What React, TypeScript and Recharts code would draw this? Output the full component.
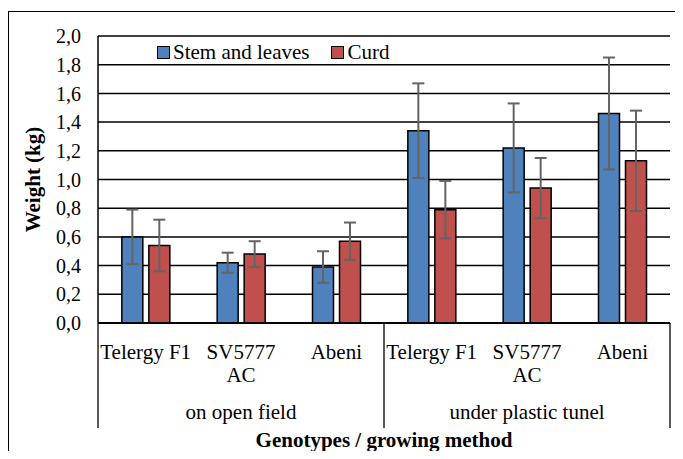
import React from "react"
import { BarChart, Bar, XAxis, YAxis, CartesianGrid, Legend, ErrorBar } from "recharts"

const genotypeLines = [["Telergy F1"], ["SV5777", "AC"], ["Abeni"]]
const methods = ["on open field", "under plastic tunel"]
const ids = ["of-telergy", "of-sv5777", "of-abeni", "pt-telergy", "pt-sv5777", "pt-abeni"]
const seriesNames = ["Stem and leaves", "Curd"]

const stem = [0.6, 0.42, 0.39, 1.34, 1.22, 1.46]
const stemErr = [0.19, 0.07, 0.11, 0.33, 0.31, 0.39]
const curd = [0.54, 0.48, 0.57, 0.79, 0.94, 1.13]
const curdErr = [0.18, 0.09, 0.13, 0.2, 0.21, 0.35]

const yTicks = [0, 0.2, 0.4, 0.6, 0.8, 1.0, 1.2, 1.4, 1.6, 1.8, 2.0]

const data = ids.map((id, i) => ({
  id,
  stem: stem[i],
  stemErr: stemErr[i],
  curd: curd[i],
  curdErr: curdErr[i],
}))

const FONT = '"Liberation Serif", "Times New Roman", serif'

function CategoryTick(props: any) {
  const { x, y, payload } = props
  const i = payload.index ?? props.index
  const half = payload.offset ?? 0
  const lines = genotypeLines[i % 3]
  const txt = { fontFamily: FONT, fontSize: 21, fill: "#000" }
  return (
    <g>
      {lines.map((t, k) => (
        <text key={k} x={x} y={y + 29 + k * 23} textAnchor="middle" dominantBaseline="central" style={txt}>
          {t}
        </text>
      ))}
      {i % 3 === 1 && (
        <text x={x} y={y + 89} textAnchor="middle" dominantBaseline="central" style={txt}>
          {methods[Math.floor(i / 3)]}
        </text>
      )}
      {i % 3 === 0 && <line x1={x - half} x2={x - half} y1={y} y2={y + 105} stroke="#000" strokeWidth={1.3} />}
      {i === 5 && <line x1={x + half} x2={x + half} y1={y} y2={y + 105} stroke="#000" strokeWidth={1.3} />}
    </g>
  )
}

function LegendContent({ payload }: any) {
  const items = [...(payload || [])].sort(
    (a: any, b: any) => seriesNames.indexOf(a.value) - seriesNames.indexOf(b.value)
  )
  return (
    <div style={{ display: "flex", alignItems: "center", fontFamily: FONT, fontSize: 21, color: "#000", lineHeight: "24px" }}>
      {items.map((e: any) => (
        <span key={e.value} style={{ display: "flex", alignItems: "center", marginRight: 22 }}>
          <span
            style={{
              display: "inline-block",
              width: 11,
              height: 11,
              background: e.color,
              border: "1.5px solid #000",
              marginRight: 3,
            }}
          />
          {e.value}
        </span>
      ))}
    </div>
  )
}

export default function App() {
  return (
    <div style={{ position: "relative", width: 675, height: 443, overflow: "hidden" }}>
      <div
        style={{
          position: "absolute",
          top: 3,
          left: 0,
          width: 720,
          height: 520,
          borderTop: "1px solid #000",
          borderLeft: "1px solid #000",
        }}
      />
      <BarChart
        width={667}
        height={443}
        data={data}
        margin={{ top: 28, right: 5, left: 0, bottom: 0 }}
        barCategoryGap="25%"
        barGap={6}
        style={{ position: "absolute", top: 0, left: 0 }}
      >
        <CartesianGrid vertical={false} stroke="#000" strokeWidth={1.5} />
        <XAxis
          dataKey="id"
          interval={0}
          height={128}
          tickSize={0}
          tickMargin={0}
          tickLine={false}
          axisLine={{ stroke: "#000", strokeWidth: 2 }}
          tick={<CategoryTick />}
          label={{
            value: "Genotypes / growing method",
            position: "insideBottom",
            offset: 4,
            style: { fontFamily: FONT, fontSize: 21, fontWeight: "bold", fill: "#000" },
          }}
        />
        <YAxis
          domain={[0, 2]}
          ticks={yTicks}
          width={90}
          tickSize={0}
          tickMargin={17}
          tickLine={false}
          axisLine={{ stroke: "#000", strokeWidth: 1.5 }}
          tickFormatter={(v: number) => v.toFixed(1).replace(".", ",")}
          tick={{ fontFamily: FONT, fontSize: 20, fill: "#000" }}
          label={{
            value: "Weight (kg)",
            angle: -90,
            position: "insideLeft",
            offset: 25,
            style: { textAnchor: "middle", fontFamily: FONT, fontSize: 21, fontWeight: "bold", fill: "#000" },
          }}
        />
        <YAxis
          yAxisId="right"
          orientation="right"
          width={0}
          domain={[0, 2]}
          tick={false}
          tickLine={false}
          axisLine={{ stroke: "#000", strokeWidth: 1.5 }}
        />
        <Legend
          verticalAlign="middle"
          layout="horizontal"
          content={<LegendContent />}
          wrapperStyle={{ top: 32, left: 149, width: "auto" }}
        />
        <Bar dataKey="stem" name={seriesNames[0]} fill="#4F81BD" stroke="#000" strokeWidth={1.5} isAnimationActive={false}>
          <ErrorBar dataKey="stemErr" width={6} stroke="#646464" strokeWidth={2} direction="y" />
        </Bar>
        <Bar dataKey="curd" name={seriesNames[1]} fill="#C0504D" stroke="#000" strokeWidth={1.5} isAnimationActive={false}>
          <ErrorBar dataKey="curdErr" width={6} stroke="#646464" strokeWidth={2} direction="y" />
        </Bar>
      </BarChart>
    </div>
  )
}
